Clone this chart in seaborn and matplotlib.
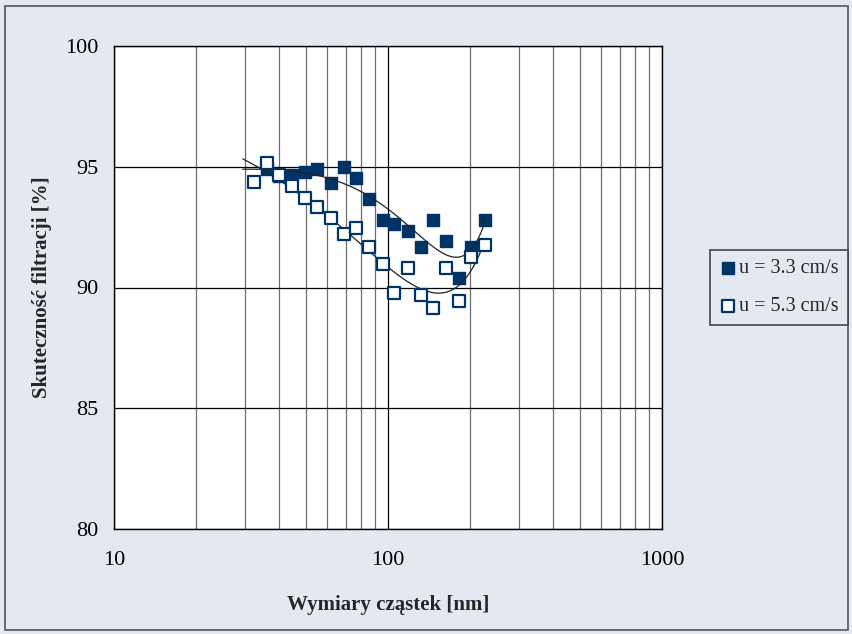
import numpy as np
import pandas as pd
import seaborn as sns
import matplotlib.pyplot as plt
from matplotlib.ticker import FixedLocator, NullFormatter

# particle size channels [nm]
size_53 = [32.4, 36.1, 40.1, 44.7, 49.8, 55.2, 62.0, 69.3, 76.4, 85.5,
           95.5, 105.4, 118.0, 132.0, 146.0, 163.0, 182.0, 201.0, 226.0]
eff_53 = [94.37, 95.16, 94.67, 94.19, 93.70, 93.33, 92.88, 92.23, 92.46, 91.67,
          90.97, 89.77, 90.80, 89.70, 89.15, 90.80, 89.46, 91.26, 91.74]

size_33 = [36.1, 40.1, 44.7, 49.8, 55.2, 62.0, 69.3, 76.4, 85.5,
           95.5, 105.4, 118.0, 132.0, 146.0, 163.0, 182.0, 201.0, 226.0]
eff_33 = [94.90, 94.60, 94.67, 94.77, 94.91, 94.33, 95.00, 94.53, 93.66,
          92.78, 92.64, 92.32, 91.67, 92.78, 91.91, 90.41, 91.67, 92.78]

labels = ["u = 3.3 cm/s", "u = 5.3 cm/s"]
navy = "#003366"
bg = "#e4e9f1"

sns.set_style("white")
plt.rcParams["font.family"] = ["Liberation Serif", "DejaVu Serif"]

fig = plt.figure(figsize=(8.52, 6.34), dpi=100, facecolor=bg)
fig.patches.append(plt.Rectangle((5 / 852, 4 / 634), 843 / 852, 624 / 634,
                                 transform=fig.transFigure, fill=False,
                                 edgecolor="#555555", lw=1.2))
ax = fig.add_axes([114 / 852, 1 - 529 / 634, 548 / 852, 483 / 634])
ax.set_facecolor("white")

df33 = pd.DataFrame({"size": size_33, "eff": eff_33})
df53 = pd.DataFrame({"size": size_53, "eff": eff_53})

# trend lines (cubic fit, as in the spreadsheet original)
for d in (df33, df53):
    coef = np.polyfit(d["size"], d["eff"], 3)
    xs = np.geomspace(29.5, d["size"].max(), 200)
    sns.lineplot(x=xs, y=np.polyval(coef, xs), ax=ax, color="#222222",
                 lw=0.9, zorder=4)

sns.scatterplot(data=df33, x="size", y="eff", ax=ax, marker="s", s=85,
                color=navy, edgecolor=navy, linewidth=1.0, zorder=3,
                label=labels[0], legend=False)
sns.scatterplot(data=df53, x="size", y="eff", ax=ax, marker="s", s=85,
                facecolor="white", edgecolor=navy, linewidth=1.6, zorder=5,
                label=labels[1], legend=False)

ax.set_xscale("log")
ax.set_xlim(10, 1000)
ax.set_ylim(80, 100)
ax.set_xticks([10, 100, 1000])
ax.set_xticklabels(["10", "100", "1000"])
ax.xaxis.set_minor_locator(FixedLocator([k * 10 ** e for e in (1, 2) for k in range(2, 10)]))
ax.xaxis.set_minor_formatter(NullFormatter())
ax.set_yticks([80, 85, 90, 95, 100])

ax.grid(which="major", color="black", lw=0.9)
ax.grid(which="minor", axis="x", color="#6e6e6e", lw=0.9)
ax.set_axisbelow(True)
for s in ax.spines.values():
    s.set_color("black")
    s.set_linewidth(1.0)

ax.tick_params(axis="both", which="major", direction="inout", length=9,
               width=1, labelsize=16, colors="black")
ax.tick_params(axis="x", which="major", pad=11)
ax.tick_params(axis="y", which="major", pad=7)
ax.tick_params(axis="x", which="minor", direction="in", length=5, width=1)

ax.set_xlabel("Wymiary cząstek [nm]", fontsize=15, fontweight="bold", labelpad=18)
ax.set_ylabel("Skuteczność filtracji [%]", fontsize=15, fontweight="bold", labelpad=9)

h, l = ax.get_legend_handles_labels()
leg = fig.legend(h, l, loc="upper left", bbox_to_anchor=(710 / 852, 1 - 250 / 634),
                 borderaxespad=0, fontsize=14.5, frameon=True, fancybox=False,
                 framealpha=1, facecolor=bg, edgecolor="#444444",
                 handletextpad=0.1, handlelength=0.9, borderpad=0.45,
                 labelspacing=0.95, markerscale=1.0)
leg.get_frame().set_linewidth(1.2)

fig.savefig("out.png", dpi=100, facecolor=bg)
